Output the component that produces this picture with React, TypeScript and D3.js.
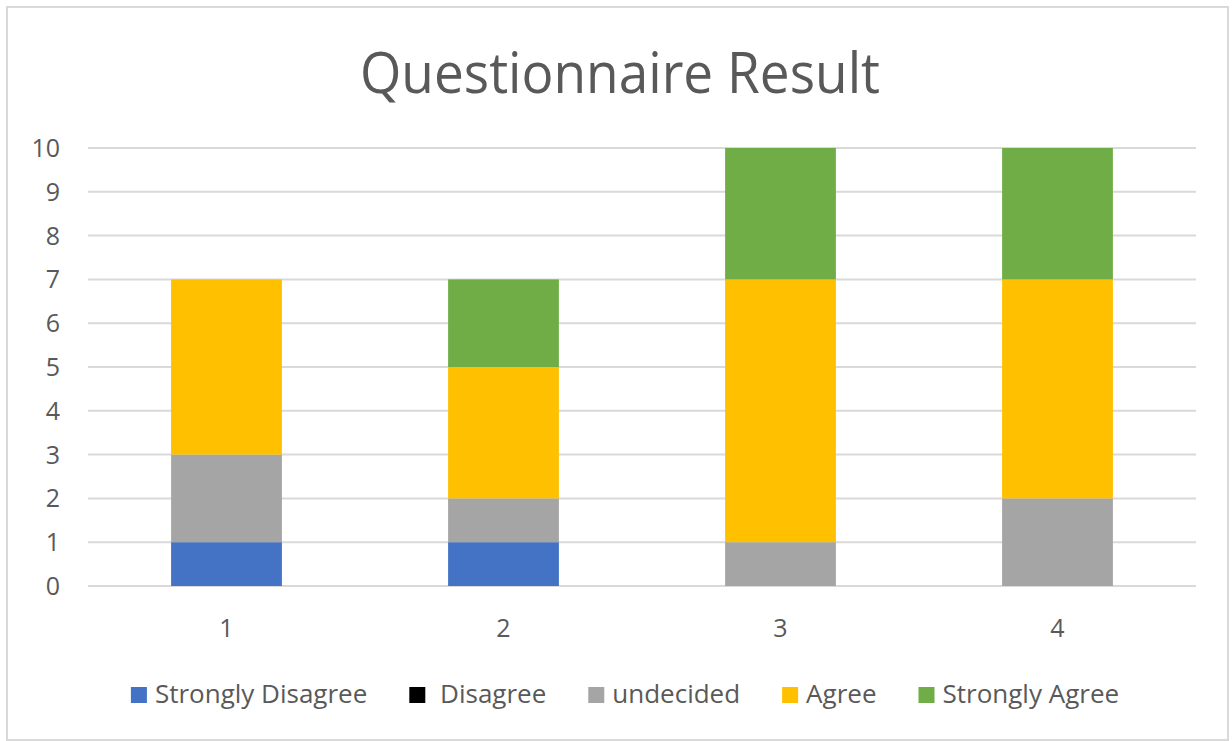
import React, { useEffect, useRef } from "react";
import * as d3 from "d3";

// Questionnaire responses per question, stacked by answer category
const questions = ["1", "2", "3", "4"];
const answerLevels = ["Strongly Disagree", "Disagree", "undecided", "Agree", "Strongly Agree"];
const legendLabels = ["Strongly Disagree", " Disagree", "undecided", "Agree", "Strongly Agree"];
const levelColors = ["#4472C4", "#000000", "#A5A5A5", "#FFC000", "#70AD47"];

const stronglyDisagree = [1, 1, 0, 0];
const disagree = [0, 0, 0, 0];
const undecided = [2, 1, 1, 2];
const agree = [4, 3, 6, 5];
const stronglyAgree = [0, 2, 3, 3];

const yTicks = [0, 1, 2, 3, 4, 5, 6, 7, 8, 9, 10];

const W = 1232;
const H = 741;
const FONT = "'Open Sans', 'Noto Sans', sans-serif";
const TEXT = "#595959";

export default function App() {
  const ref = useRef<SVGSVGElement | null>(null);

  useEffect(() => {
    const svg = d3.select(ref.current);
    svg.selectAll("*").remove();

    // chart frame
    svg
      .append("rect")
      .attr("x", 7)
      .attr("y", 7)
      .attr("width", 1221)
      .attr("height", 733)
      .attr("fill", "#fff")
      .attr("stroke", "#D9D9D9")
      .attr("stroke-width", 2);

    svg
      .append("text")
      .attr("x", 620)
      .attr("y", 93)
      .attr("text-anchor", "middle")
      .attr("font-family", FONT)
      .attr("font-size", 56)
      .attr("textLength", 520)
      .attr("lengthAdjust", "spacingAndGlyphs")
      .attr("fill", TEXT)
      .text("Questionnaire Result");

    const plot = { left: 88, right: 1196, top: 148, bottom: 586 };

    const x = d3
      .scaleBand<string>()
      .domain(questions)
      .range([plot.left, plot.right])
      .paddingInner(0.6)
      .paddingOuter(0.3);

    const y = d3.scaleLinear().domain([0, 10]).range([plot.bottom, plot.top]);

    // gridlines
    svg
      .append("g")
      .selectAll("line")
      .data(yTicks)
      .join("line")
      .attr("x1", plot.left)
      .attr("x2", plot.right)
      .attr("y1", (d) => y(d))
      .attr("y2", (d) => y(d))
      .attr("stroke", "#D9D9D9")
      .attr("stroke-width", 2);

    // y tick labels
    svg
      .append("g")
      .selectAll("text")
      .data(yTicks)
      .join("text")
      .attr("x", 60)
      .attr("y", (d) => y(d))
      .attr("dy", "0.36em")
      .attr("text-anchor", "end")
      .attr("font-family", FONT)
      .attr("font-size", 25)
      .attr("fill", TEXT)
      .text((d) => String(d));

    // stacked bars
    const series = [stronglyDisagree, disagree, undecided, agree, stronglyAgree];
    const rows = questions.map((q, i) => {
      const row: Record<string, number | string> = { q };
      answerLevels.forEach((lvl, k) => (row[lvl] = series[k][i]));
      return row;
    });
    const stacked = d3.stack<Record<string, number | string>>().keys(answerLevels)(rows as any);

    svg
      .append("g")
      .selectAll("g")
      .data(stacked)
      .join("g")
      .attr("fill", (_, k) => levelColors[k])
      .selectAll("rect")
      .data((s) => s.filter((d) => d[1] - d[0] > 0))
      .join("rect")
      .attr("x", (d) => x(String(d.data.q))!)
      .attr("width", x.bandwidth())
      .attr("y", (d) => y(d[1]))
      .attr("height", (d) => y(d[0]) - y(d[1]));

    // x labels
    svg
      .append("g")
      .selectAll("text")
      .data(questions)
      .join("text")
      .attr("x", (d) => x(d)! + x.bandwidth() / 2)
      .attr("y", 637)
      .attr("text-anchor", "middle")
      .attr("font-family", FONT)
      .attr("font-size", 25)
      .attr("fill", TEXT)
      .text((d) => d);

    // legend, laid out left to right and centred
    const legend = svg.append("g");
    const items = legend
      .selectAll("g")
      .data(legendLabels)
      .join("g");
    items
      .append("rect")
      .attr("width", 16)
      .attr("height", 16)
      .attr("y", -16)
      .attr("fill", (_, k) => levelColors[k]);
    items
      .append("text")
      .attr("x", 24)
      .attr("font-family", FONT)
      .attr("font-size", 26)
      .attr("fill", TEXT)
      .style("white-space", "pre")
      .text((d) => d);

    let cursor = 0;
    const offsets: number[] = [];
    items.each(function () {
      const t = d3.select(this).select("text").node() as SVGTextElement;
      offsets.push(cursor);
      cursor += 24 + t.getComputedTextLength() + 42;
    });
    const total = cursor - 42;
    const startX = 625 - total / 2;
    items.attr("transform", (_, k) => `translate(${startX + offsets[k]},703)`);
  }, []);

  return (
    <svg
      ref={ref}
      width={W}
      height={H}
      style={{ position: "absolute", left: 0, top: 0, background: "#fff" }}
    />
  );
}
